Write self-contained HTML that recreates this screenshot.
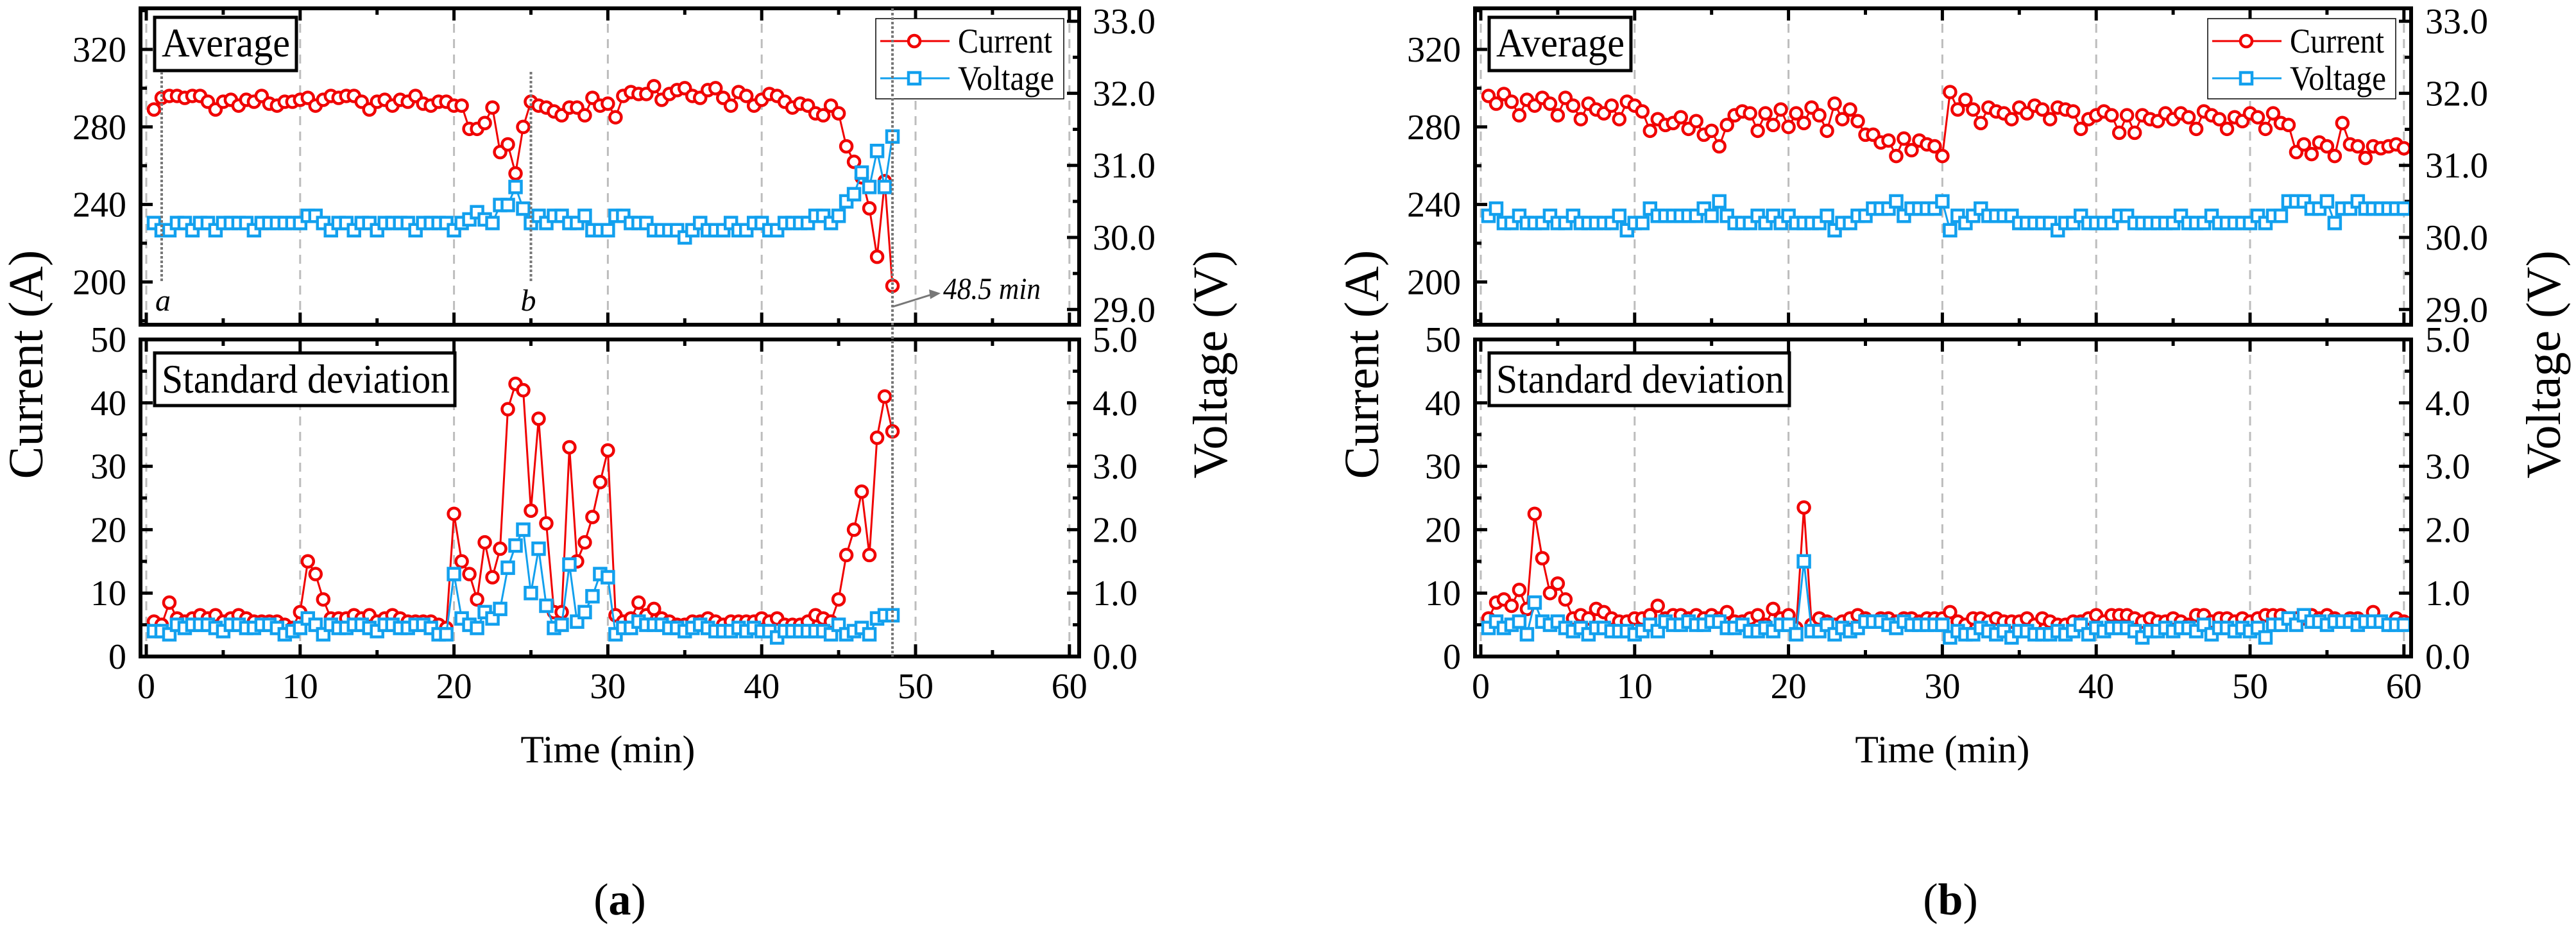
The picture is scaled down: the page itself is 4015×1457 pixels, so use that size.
<!DOCTYPE html>
<html><head><meta charset="utf-8">
<style>
html,body{margin:0;padding:0;background:#fff;}
svg{display:block;font-family:"Liberation Serif",serif;}
</style></head>
<body>
<svg id="chart" width="4015" height="1457" viewBox="0 0 4015 1457" xmlns="http://www.w3.org/2000/svg"></svg>
<script>
// ---------- data ----------
const tStartA = 0.5, tStepA = 0.5;
const avgCurrentA = [289,295,296,296,295,296,296,293,289,293,294,291,294,293,296,292,291,293,293,294,
 295,291,294,296,295,296,296,293,289,293,294,291,294,293,296,292,291,293,293,291,
 291,279,279,282,290,267,271,256,280,293,291,290,288,286,290,290,286,295,291,292,
 285,296,298,297,297,301,294,297,299,300,296,295,299,300,295,291,298,296,291,294,
 297,296,293,290,292,291,287,286,291,287,270,262,254,238,213,252,198];
const avgVoltageA = [30.2,30.1,30.1,30.2,30.2,30.1,30.2,30.2,30.1,30.2,30.2,30.2,30.2,30.1,30.2,30.2,30.2,30.2,30.2,30.2,
 30.3,30.3,30.2,30.1,30.2,30.2,30.1,30.2,30.2,30.1,30.2,30.2,30.2,30.2,30.1,30.2,30.2,30.2,30.2,30.1,
 30.2,30.25,30.35,30.25,30.2,30.45,30.45,30.7,30.4,30.2,30.3,30.2,30.3,30.3,30.2,30.2,30.3,30.1,30.1,30.1,
 30.3,30.3,30.2,30.2,30.2,30.1,30.1,30.1,30.1,30.0,30.1,30.2,30.1,30.1,30.1,30.2,30.1,30.1,30.2,30.2,
 30.1,30.1,30.2,30.2,30.2,30.2,30.3,30.3,30.2,30.3,30.5,30.6,30.9,30.7,31.2,30.7,31.4];
const sdCurrentA = [5.5,5,8.5,6,5.5,6,6.5,6,6.5,5.5,6,6.5,6,5.5,5.5,5.5,5.5,5,4.5,7,
 15,13,9,6,6,6,6.5,6,6.5,5.5,6,6.5,6,5.5,5.5,5.5,5.5,5,4.5,22.5,
 15,13,9,18,12.5,17,39,43,42,23,37.5,21,7,7,33,15,18,22,27.5,32.5,
 6.5,5.5,6,8.5,6.5,7.5,6,5.5,5,5,5.5,5.5,6,5.5,5,5.5,5.5,5.5,5.5,6,
 5.5,6,5,5,5,5.5,6.5,6,5.5,9,16,20,26,16,34.5,41,35.5];
const sdVoltageA = [.4,.4,.35,.5,.45,.5,.5,.5,.45,.4,.5,.5,.45,.45,.5,.5,.45,.35,.4,.45,
 .6,.5,.35,.5,.45,.45,.5,.5,.45,.4,.5,.5,.45,.45,.5,.5,.45,.35,.35,1.3,
 .6,.5,.45,.7,.6,.75,1.4,1.75,2.0,1.0,1.7,.8,.45,.5,1.45,.55,.7,.95,1.3,1.25,
 .35,.45,.45,.55,.5,.5,.5,.45,.45,.4,.45,.5,.45,.4,.4,.4,.45,.4,.45,.4,
 .4,.3,.4,.4,.4,.4,.4,.4,.35,.5,.35,.4,.45,.35,.6,.65,.65];

const tStartB = 0.5, tStepB = 0.5;
const avgCurrentB = [296,292,297,293,286,294,291,295,292,286,295,291,284,292,289,287,291,284,293,291,
 288,278,284,281,282,285,279,283,276,278,270,281,286,288,287,278,287,281,289,280,
 287,282,290,286,278,292,284,289,283,276,276,272,273,265,274,268,273,271,270,265,
 298,289,294,289,282,290,288,287,284,290,287,291,289,284,290,289,288,279,284,286,
 288,286,277,286,277,286,284,283,287,284,287,285,279,288,286,284,279,285,283,287,
 285,279,287,282,281,267,271,266,272,270,265,282,271,270,264,270,269,270,271,269];
const avgVoltageB = [30.3,30.4,30.2,30.2,30.3,30.2,30.2,30.2,30.3,30.2,30.2,30.3,30.2,30.2,30.2,30.2,30.2,30.3,30.1,30.2,
 30.2,30.4,30.3,30.3,30.3,30.3,30.3,30.3,30.4,30.3,30.5,30.3,30.2,30.2,30.2,30.3,30.2,30.3,30.2,30.3,
 30.2,30.2,30.2,30.2,30.3,30.1,30.2,30.2,30.3,30.3,30.4,30.4,30.4,30.5,30.3,30.4,30.4,30.4,30.4,30.5,
 30.1,30.3,30.2,30.3,30.4,30.3,30.3,30.3,30.3,30.2,30.2,30.2,30.2,30.2,30.1,30.2,30.2,30.3,30.2,30.2,
 30.2,30.2,30.3,30.3,30.2,30.2,30.2,30.2,30.2,30.2,30.3,30.2,30.2,30.2,30.3,30.2,30.2,30.2,30.2,30.2,
 30.3,30.2,30.3,30.3,30.5,30.5,30.5,30.4,30.4,30.5,30.2,30.4,30.4,30.5,30.4,30.4,30.4,30.4,30.4,30.4];
const sdCurrentB = [6,8.5,9,8,10.5,7.5,22.5,15.5,10,11.5,9,6,6.5,6,7.5,7,6,5.5,5.5,6,
 6,6.5,8,6,6.5,6.5,6,6.5,6,6.5,6,7,5.5,5.5,6,6.5,5,7.5,6,6.5,
 4.5,23.5,5,6,5.5,5,5.5,6,6.5,6,5.5,6,6,5.5,6,6,5.5,6,6,6,
 7,5.5,5,6,6,5.5,6,5.5,5.5,5.5,6,5,6,5.5,5,5,5.5,5.5,6,6.5,
 5.5,6.5,6.5,6.5,6,5.5,6,5.5,5.5,6,5.5,5,6.5,6.5,5.5,6,6,5.5,6,5.5,
 6,6.5,6.5,6.5,6,6,6,6.5,6,6.5,6,5.5,6,6,5.5,7,5.5,5,6,5.5];
const sdVoltageB = [.45,.55,.45,.5,.55,.35,.85,.55,.5,.55,.45,.4,.45,.35,.45,.45,.4,.4,.4,.35,
 .4,.5,.4,.55,.5,.5,.55,.5,.5,.55,.55,.45,.45,.5,.4,.4,.45,.4,.5,.5,
 .35,1.5,.4,.4,.5,.35,.45,.4,.45,.55,.55,.55,.5,.45,.55,.5,.5,.5,.5,.5,
 .3,.4,.35,.35,.45,.4,.35,.4,.3,.4,.4,.35,.35,.35,.4,.35,.4,.5,.35,.45,
 .4,.45,.45,.45,.4,.3,.4,.4,.45,.4,.45,.45,.4,.5,.35,.45,.45,.4,.45,.4,
 .45,.3,.5,.5,.6,.5,.65,.55,.55,.5,.55,.55,.55,.5,.55,.55,.55,.5,.5,.5];

const xTicks = [0,10,20,30,40,50,60];
const avgCurrentTicks = [200,240,280,320];
const avgVoltageTicks = [29.0,30.0,31.0,32.0,33.0];
const sdCurrentTicks = [0,10,20,30,40,50];
const sdVoltageTicks = [0.0,1.0,2.0,3.0,4.0,5.0];
const markerTimeA = [1, 25];
const cutoffTimeA = 48.5;

// ---------- helpers ----------
const NS = "http://www.w3.org/2000/svg";
const svg = document.getElementById('chart');
function el(tag, attrs, parent){
  const e = document.createElementNS(NS, tag);
  for (const k in attrs) e.setAttribute(k, attrs[k]);
  (parent||svg).appendChild(e);
  return e;
}
const RED = "#f00000", BLUE = "#12a0ee";
const PX_PER_MIN = 23.98;
const TOP_Y0 = 13, TOP_Y1 = 506;
const yAvgI = v => 77 + (320 - v) * 3.02;
const yAvgV = v => 370 - (v - 30) * 112.3;
const BOT_Y0 = 529, BOT_Y1 = 1023;
const ySdI = v => BOT_Y1 - v * 9.88;
const ySdV = v => BOT_Y1 - v * 98.8;

function drawFigure(prefix, x0, frameL, frameR, t0, dt, aI, aV, sI, sV, rightLabelX, leftTitleX, rightTitleX, letter, letterX){
  const xs = t => x0 + t * PX_PER_MIN;
  const g = el('g', {});
  
  

  function panel(name, y0, y1, yI, yV, iTicks, vTicks, iMinor, vMinor, I, V){
    const pg = el('g', {}, g);
    
    
    xTicks.forEach(t => {
      const l = el('line', {x1: xs(t), x2: xs(t), y1: y0, y2: y1, stroke: '#bdbdbd', 'stroke-width': 3, 'stroke-dasharray': '14,10'}, pg);
      
      
    });
    for (let t = 0; t <= 60; t += 5) {
      const L = (t % 10 === 0) ? 19 : 10;
      el('line', {x1: xs(t), x2: xs(t), y1: y0, y2: y0 + L, stroke: '#000', 'stroke-width': 5}, pg);
      el('line', {x1: xs(t), x2: xs(t), y1: y1, y2: y1 - L, stroke: '#000', 'stroke-width': 5}, pg);
    }
    iMinor.forEach(v => { const y = yI(v); if (y > y0 && y < y1) el('line', {x1: frameL, x2: frameL + 10, y1: y, y2: y, stroke: '#000', 'stroke-width': 5}, pg); });
    iTicks.forEach(v => {
      const y = yI(v);
      el('line', {x1: frameL, x2: frameL + 19, y1: y, y2: y, stroke: '#000', 'stroke-width': 5}, pg);
      const tx = el('text', {x: frameL - 22, y: y + 19, 'text-anchor': 'end', 'font-size': 56}, pg);
      tx.textContent = v;
      
      
    });
    vMinor.forEach(v => { const y = yV(v); if (y > y0 && y < y1) el('line', {x1: frameR, x2: frameR - 10, y1: y, y2: y, stroke: '#000', 'stroke-width': 5}, pg); });
    vTicks.forEach(v => {
      const y = yV(v);
      if (y > y0 + 3 && y < y1 - 3) el('line', {x1: frameR, x2: frameR - 19, y1: y, y2: y, stroke: '#000', 'stroke-width': 5}, pg);
      const tx = el('text', {x: rightLabelX, y: y + 19, 'text-anchor': 'start', 'font-size': 56}, pg);
      tx.textContent = v.toFixed(1);
      
      
    });
    const ptsI = I.map((v, i) => xs(t0 + i * dt).toFixed(1) + ',' + yI(v).toFixed(1)).join(' ');
    const ptsV = V.map((v, i) => xs(t0 + i * dt).toFixed(1) + ',' + yV(v).toFixed(1)).join(' ');
    const lineI = el('polyline', {points: ptsI, fill: 'none', stroke: RED, 'stroke-width': 3}, pg);
    
    
    I.forEach((v, i) => {
      const c = el('circle', {cx: xs(t0 + i * dt), cy: yI(v), r: 9, fill: '#fff', stroke: RED, 'stroke-width': 4.5}, pg);
      
      
    });
    const lineV = el('polyline', {points: ptsV, fill: 'none', stroke: BLUE, 'stroke-width': 3}, pg);
    
    
    V.forEach((v, i) => {
      const r = el('rect', {x: xs(t0 + i * dt) - 9, y: yV(v) - 9, width: 18, height: 18, fill: '#fff', stroke: BLUE, 'stroke-width': 4.5}, pg);
      
      
    });
    const fr = el('rect', {x: frameL, y: y0, width: frameR - frameL, height: y1 - y0, fill: 'none', stroke: '#000', 'stroke-width': 6}, pg);
    
    
    return pg;
  }

  const minorI1 = [180,220,260,300,340];
  const minorV1 = [28.5,29.5,30.5,31.5,32.5];
  panel('average', TOP_Y0, TOP_Y1, yAvgI, yAvgV, avgCurrentTicks, avgVoltageTicks, minorI1, minorV1, aI, aV);
  const minorI2 = [5,15,25,35,45];
  const minorV2 = [0.5,1.5,2.5,3.5,4.5];
  panel('std', BOT_Y0, BOT_Y1, ySdI, ySdV, sdCurrentTicks, sdVoltageTicks, minorI2, minorV2, sI, sV);

  const b1 = el('rect', {x: frameL + 22, y: 27, width: 221, height: 83, fill: '#fff', stroke: '#000', 'stroke-width': 5}, g);
  
  
  const t1 = el('text', {x: frameL + 33, y: 88, 'font-size': 64, textLength: 200, lengthAdjust: 'spacingAndGlyphs'}, g);
  t1.textContent = 'Average';
  
  
  const b2 = el('rect', {x: frameL + 22, y: 550, width: 468, height: 82, fill: '#fff', stroke: '#000', 'stroke-width': 5}, g);
  
  
  const t2 = el('text', {x: frameL + 33, y: 612, 'font-size': 64, textLength: 449, lengthAdjust: 'spacingAndGlyphs'}, g);
  t2.textContent = 'Standard deviation';
  
  

  const lx = frameR - 317;
  const lg = el('g', {}, g);
  
  
  el('rect', {x: lx, y: 29, width: 293, height: 125, fill: '#fff', stroke: '#000', 'stroke-width': 1.5}, lg);
  el('line', {x1: lx + 7, x2: lx + 115, y1: 64, y2: 64, stroke: RED, 'stroke-width': 3}, lg);
  el('circle', {cx: lx + 60, cy: 64, r: 9, fill: '#fff', stroke: RED, 'stroke-width': 4.5}, lg);
  el('line', {x1: lx + 7, x2: lx + 115, y1: 122, y2: 122, stroke: BLUE, 'stroke-width': 3}, lg);
  el('rect', {x: lx + 51, y: 113, width: 18, height: 18, fill: '#fff', stroke: BLUE, 'stroke-width': 4.5}, lg);
  const lt1 = el('text', {x: lx + 128, y: 82, 'font-size': 54, textLength: 147, lengthAdjust: 'spacingAndGlyphs'}, lg);
  lt1.textContent = 'Current';
  
  
  const lt2 = el('text', {x: lx + 128, y: 140, 'font-size': 54, textLength: 150, lengthAdjust: 'spacingAndGlyphs'}, lg);
  lt2.textContent = 'Voltage';
  
  

  xTicks.forEach(t => {
    const tx = el('text', {x: xs(t), y: 1088, 'text-anchor': 'middle', 'font-size': 56}, g);
    tx.textContent = t;
    
    
  });
  const xt = el('text', {x: xs(30) - 136, y: 1188, 'font-size': 60, textLength: 272, lengthAdjust: 'spacingAndGlyphs'}, g);
  xt.textContent = 'Time (min)';
  
  
  const yt = el('text', {x: leftTitleX, y: 568, 'text-anchor': 'middle', 'font-size': 76, transform: 'rotate(-90 ' + leftTitleX + ' 568)'}, g);
  yt.textContent = 'Current (A)';
  
  
  const y2t = el('text', {x: rightTitleX, y: 568, 'text-anchor': 'middle', 'font-size': 76, transform: 'rotate(-90 ' + rightTitleX + ' 568)'}, g);
  y2t.textContent = 'Voltage (V)';
  
  
  const cap = el('text', {x: letterX, y: 1425, 'text-anchor': 'middle', 'font-size': 70}, g);
  cap.innerHTML = '(<tspan font-weight="bold">' + letter + '</tspan>)';
  
  
  return xs;
}

const xsA = drawFigure('a', 228, 219, 1682, tStartA, tStepA, avgCurrentA, avgVoltageA, sdCurrentA, sdVoltageA, 1703, 66, 1912, 'a', 966);
drawFigure('b', 2308, 2299, 3758, tStartB, tStepB, avgCurrentB, avgVoltageB, sdCurrentB, sdVoltageB, 3780, 2148, 3990, 'b', 3040);

const labelsAB = ['a', 'b'];
markerTimeA.forEach((t, i) => {
  const l = el('line', {x1: xsA(t), x2: xsA(t), y1: 112, y2: 440, stroke: '#777', 'stroke-width': 4, 'stroke-dasharray': '4,3'});
  
  
  const tx = el('text', {x: xsA(t) + (i === 0 ? 2 : -4), y: 484, 'font-size': 48, 'font-style': 'italic', 'text-anchor': 'middle'});
  tx.textContent = labelsAB[i];
  
  
});
const cut = el('line', {x1: xsA(cutoffTimeA), x2: xsA(cutoffTimeA), y1: 13, y2: 1023, stroke: '#777', 'stroke-width': 4, 'stroke-dasharray': '4,3'});


const arrow = el('line', {x1: xsA(cutoffTimeA), y1: 478, x2: 1452, y2: 459, stroke: '#777', 'stroke-width': 3});


const head = el('polygon', {points: '1466,457 1448,451 1450,466', fill: '#777'});


const cutT = el('text', {x: 1470, y: 466, 'font-size': 48, 'font-style': 'italic', textLength: 152, lengthAdjust: 'spacingAndGlyphs'});
cutT.textContent = '48.5 min';


</script>
</body></html>
